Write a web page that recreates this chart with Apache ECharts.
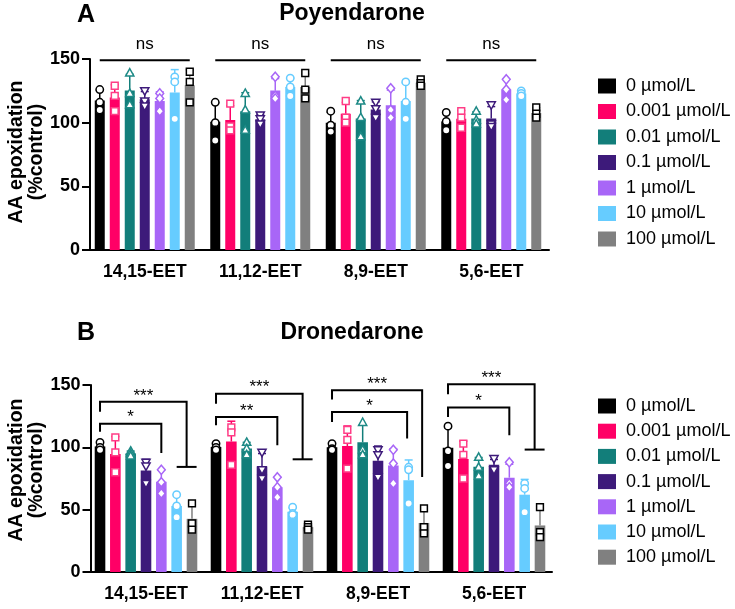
<!DOCTYPE html>
<html><head><meta charset="utf-8">
<script src="https://cdn.jsdelivr.net/npm/echarts@6/dist/echarts.min.js"></script>
<style>html,body{margin:0;padding:0;background:#fff}#c{width:735px;height:609px}</style>
</head><body><div id="c"></div><script>
// ---------- data ----------
const categories = ['14,15-EET', '11,12-EET', '8,9-EET', '5,6-EET'];
const doses = ['0 µmol/L', '0.001 µmol/L', '0.01 µmol/L', '0.1 µmol/L', '1 µmol/L', '10 µmol/L', '100 µmol/L'];
const yMin = 0, yMax = 150, yStep = 50;

// Poyendarone replicates (per category: 14,15 / 11,12 / 8,9 / 5,6)
const poy_0    = [[126,116,110],[116,100,86],[109,98,93],[108,101,94]];
const poy_0001 = [[129,121,109],[115,97,94],[117,104,100],[109,104,96]];
const poy_001  = [[139,123,114],[123,110,94],[117,104,89],[109,102,99]];
const poy_01   = [[125,117,113],[106,103,99],[116,111,104],[114,99,97]];
const poy_1    = [[123,119,109],[136,121,119],[127,110,104],[134,126,118]];
const poy_10   = [[136,132,103],[135,128,121],[132,116,103],[125,123,121]];
const poy_100  = [[140,132,116],[139,126,119],[134,131,129],[112,107,104]];

// Dronedarone replicates
const dro_0    = [[104,100,98],[103,100,98],[103,99,98],[117,97,85]];
const dro_0001 = [[108,96,80],[116,112,86],[114,106,83],[103,94,75]];
const dro_001  = [[97,95,93],[104,99,94],[120,98,94],[92,84,77]];
const dro_01   = [[88,85,71],[96,82,75],[98,94,76],[91,83,82]];
const dro_1    = [[82,72,63],[76,68,60],[98,87,71],[88,71,68]];
const dro_10   = [[62,53,44],[52,47,46],[84,82,55],[71,67,48]];
const dro_100  = [[55,39,34],[38,36,34],[51,36,31],[52,32,28]];

// significance annotations
// A: [category, fromDose, toDose, lineValue, label]
const nsA = [[0,0,6,149,'ns'],[1,0,6,149,'ns'],[2,0,6,149,'ns'],[3,0,6,149,'ns']];
// B: [category, fromDose, toDose, topValue, leftBottom, rightBottom, teeFrom, teeTo, label]
const bracketsB = [
  [0,0,5.65,136.5,128.5,84.3,5,6.3,'***'],
  [0,0,4,119,112.4,95.5,-1,-1,'*'],
  [1,0,5.65,143,135,90.4,5,6.3,'***'],
  [1,0,4,124.4,117.7,101.7,-1,-1,'**'],
  [2,0,5.88,145.8,138.3,76.2,-1,-1,'***'],
  [2,0,4.9,128.4,120.4,107,-1,-1,'*'],
  [3,0,5.65,150.6,142.6,98.2,5,6.3,'***'],
  [3,0,4,131.9,124.4,109.7,-1,-1,'*']
];

// ---------- styles ----------
const FONT = '"Liberation Sans", Arial, Helvetica, sans-serif';
const barColors = ['#000000','#FF0066','#127E7A','#3D1A7A','#A866F7','#66CCFF','#808080'];
const ptStroke  = ['#000000','#FF3D86','#1E8A86','#3D1A7A','#A866F7','#66CCFF','#000000'];
const symbols = ['circle','square','triangle','triangleDown','diamond','circle','square'];

const poyReps = [poy_0, poy_0001, poy_001, poy_01, poy_1, poy_10, poy_100];
const droReps = [dro_0, dro_0001, dro_001, dro_01, dro_1, dro_10, dro_100];

function mean(a){ return a.reduce((s,v)=>s+v,0)/a.length; }
function sd(a){ const m=mean(a); return Math.sqrt(a.reduce((s,v)=>s+(v-m)*(v-m),0)/(a.length-1)); }

const panels = [
  {grid:{left:87, top:59, width:462, height:191}, yOff:-3, bw:10, gap:0.5, reps:poyReps, legendTop:77, legendGap:7.5},
  {grid:{left:88, top:385, width:464, height:187}, yOff:-2.5, bw:10.6, gap:0.446, reps:droReps, legendTop:397, legendGap:7.2}
];

function symbolShape(kind, cx, cy, stroke){
  const st = {fill:'#ffffff', stroke:stroke, lineWidth:1.5};
  const r = 3.7;
  if (kind==='circle') return {type:'circle', shape:{cx:cx, cy:cy, r:r}, style:st};
  if (kind==='square') return {type:'rect', shape:{x:cx-3.4, y:cy-3.4, width:6.8, height:6.8}, style:st};
  if (kind==='triangle') return {type:'polygon', shape:{points:[[cx,cy-4.4],[cx+4.1,cy+3],[cx-4.1,cy+3]]}, style:st};
  if (kind==='triangleDown') return {type:'polygon', shape:{points:[[cx,cy+4.4],[cx+4.1,cy-3],[cx-4.1,cy-3]]}, style:st};
  return {type:'polygon', shape:{points:[[cx,cy-4.6],[cx+3.9,cy],[cx,cy+4.6],[cx-3.9,cy]]}, style:st};
}

const series = [];
panels.forEach((p, pi) => {
  const pitch = p.bw * (1 + p.gap);
  for (let d = 0; d < 7; d++) {
    const reps = p.reps[d];
    const off = (d - 3) * pitch;
    series.push({
      type:'bar', name:doses[d], xAxisIndex:pi, yAxisIndex:pi,
      data: reps.map(r => mean(r)), barWidth:p.bw, barGap:(p.gap*100)+'%',
      itemStyle:{color:barColors[d]}, z:2, silent:true
    });
    series.push({
      type:'custom', xAxisIndex:pi, yAxisIndex:pi, z:3, silent:true,
      data: reps.map((r,i) => [i, mean(r), sd(r)]),
      renderItem: (params, api) => {
        const x = api.coord([api.value(0), 0])[0] + off;
        const y1 = api.coord([0, api.value(1)])[1];
        const y2 = api.coord([0, api.value(1) + api.value(2)])[1];
        const s = {stroke:barColors[d], lineWidth:1.5};
        return {type:'group', children:[
          {type:'line', shape:{x1:x, y1:y1, x2:x, y2:y2}, style:s},
          {type:'line', shape:{x1:x-4, y1:y2, x2:x+4, y2:y2}, style:s}
        ]};
      }
    });
    const pts = [];
    reps.forEach((r,i) => r.forEach(v => pts.push([i, v])));
    series.push({
      type:'custom', xAxisIndex:pi, yAxisIndex:pi, z:4, silent:true,
      data: pts,
      renderItem: (params, api) => {
        const c = api.coord([api.value(0), api.value(1)]);
        return symbolShape(symbols[d], c[0] + off, c[1], ptStroke[d]);
      }
    });
  }
});

// ns lines (panel A)
(function(){
  const p = panels[0], pitch = p.bw*(1+p.gap);
  series.push({
    type:'custom', xAxisIndex:0, yAxisIndex:0, z:5, silent:true, clip:false,
    data: nsA.map(b => [b[0], b[3]]),
    renderItem: (params, api) => {
      const b = nsA[params.dataIndex];
      const cx = api.coord([b[0], 0])[0];
      const y = api.coord([0, b[3]])[1];
      const x1 = cx + (b[1]-3)*pitch, x2 = cx + (b[2]-3)*pitch;
      return {type:'group', children:[
        {type:'line', shape:{x1:x1, y1:y, x2:x2, y2:y}, style:{stroke:'#000', lineWidth:2.2}},
        {type:'text', x:(x1+x2)/2, y:y-16, style:{text:b[4], fill:'#000', font:'17px '+FONT, align:'center', verticalAlign:'middle'}}
      ]};
    }
  });
})();

// brackets (panel B)
(function(){
  const p = panels[1], pitch = p.bw*(1+p.gap);
  series.push({
    type:'custom', xAxisIndex:1, yAxisIndex:1, z:5, silent:true, clip:false,
    data: bracketsB.map(b => [b[0], b[3]]),
    renderItem: (params, api) => {
      const b = bracketsB[params.dataIndex];
      const cx = api.coord([b[0], 0])[0];
      const X = dd => cx + (dd-3)*pitch;
      const Y = v => api.coord([0, v])[1];
      const st = {stroke:'#000', lineWidth:2, fill:null};
      const ch = [
        {type:'polyline', shape:{points:[[X(b[1]),Y(b[4])],[X(b[1]),Y(b[3])],[X(b[2]),Y(b[3])],[X(b[2]),Y(b[5])]]}, style:st},
        {type:'text', x:(X(b[1])+X(b[2]))/2, y:Y(b[3])-6, style:{text:b[8], fill:'#000', font:'17px '+FONT, align:'center', verticalAlign:'middle'}}
      ];
      if (b[6] >= 0) ch.push({type:'line', shape:{x1:X(b[6]), y1:Y(b[5]), x2:X(b[7]), y2:Y(b[5])}, style:st});
      return {type:'group', children:ch};
    }
  });
})();

const option = {
  animation:false,
  backgroundColor:'#ffffff',
  grid: panels.map(p => p.grid),
  xAxis: panels.map((p,pi) => ({
    type:'category', gridIndex:pi, data:categories,
    axisLine:{lineStyle:{color:'#000', width:2}},
    axisTick:{alignWithLabel:true, length:6, lineStyle:{color:'#000', width:2}},
    axisLabel:{fontSize:17.5, fontWeight:'bold', color:'#000', fontFamily:FONT, margin:13}
  })),
  yAxis: panels.map((p,pi) => ({
    type:'value', gridIndex:pi, min:yMin, max:yMax, interval:yStep, offset:p.yOff,
    axisLine:{show:true, lineStyle:{color:'#000', width:2}},
    axisTick:{show:true, length:8, lineStyle:{color:'#000', width:2}},
    axisLabel:{fontSize:18, fontWeight:'bold', color:'#000', fontFamily:FONT, margin:10},
    splitLine:{show:false}
  })),
  legend: panels.map(p => ({
    orient:'vertical', left:598, top:p.legendTop, padding:0, itemWidth:18, itemHeight:15, itemGap:p.legendGap,
    icon:'rect', selectedMode:false, data:doses,
    textStyle:{fontSize:18, fontFamily:FONT, color:'#000', padding:[0,0,0,5]}
  })),
  graphic: [
    {type:'text', x:77, y:15, style:{text:'A', font:'bold 25px '+FONT, fill:'#000', align:'left', verticalAlign:'middle'}},
    {type:'text', x:352, y:14, style:{text:'Poyendarone', font:'bold 23px '+FONT, fill:'#000', align:'center', verticalAlign:'middle'}},
    {type:'text', x:77, y:333, style:{text:'B', font:'bold 25px '+FONT, fill:'#000', align:'left', verticalAlign:'middle'}},
    {type:'text', x:352, y:333, style:{text:'Dronedarone', font:'bold 23px '+FONT, fill:'#000', align:'center', verticalAlign:'middle'}},
    {type:'text', x:27, y:152, rotation:Math.PI/2, style:{text:'AA epoxidation\n(%control)', font:'bold 19.5px '+FONT, lineHeight:20, fill:'#000', align:'center', verticalAlign:'middle'}},
    {type:'text', x:27, y:470, rotation:Math.PI/2, style:{text:'AA epoxidation\n(%control)', font:'bold 19.5px '+FONT, lineHeight:20, fill:'#000', align:'center', verticalAlign:'middle'}}
  ],
  series: series
};
const chart = echarts.init(document.getElementById('c'));
chart.setOption(option);
</script></body></html>
